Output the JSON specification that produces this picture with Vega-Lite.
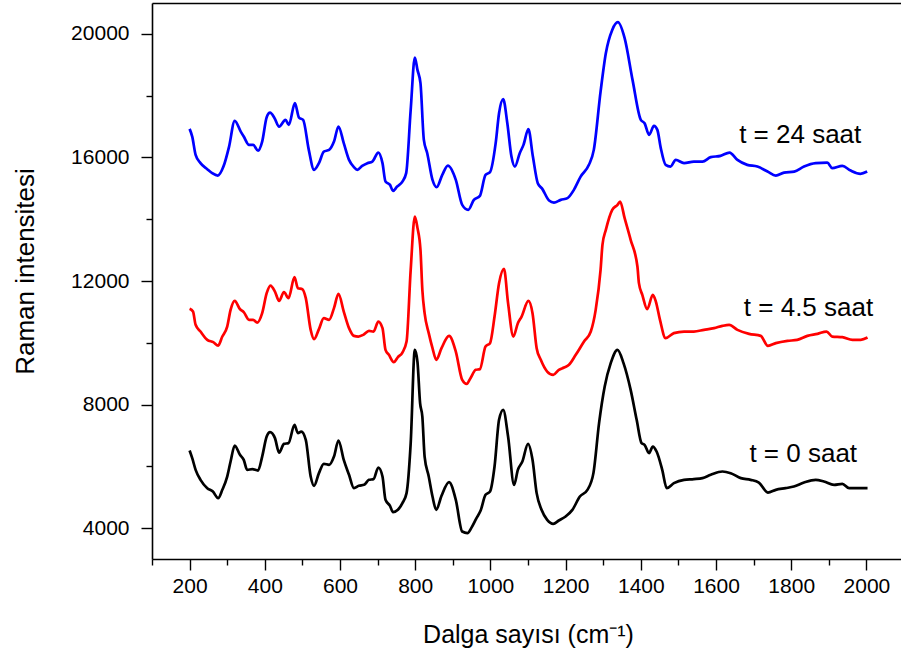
{
  "$schema": "https://vega.github.io/schema/vega-lite/v6.json",
  "width": 749,
  "height": 556,
  "autosize": {"type": "none"},
  "padding": {"left": 152, "top": 3, "right": 0, "bottom": 103},
  "background": "white",
  "config": {
    "view": {"stroke": null},
    "font": "Liberation Sans",
    "axis": {"grid": false, "domainColor": "black", "domainWidth": 1.6, "tickColor": "black", "tickWidth": 1.4, "labelColor": "black", "titleColor": "black", "labelFont": "Liberation Sans", "titleFont": "Liberation Sans", "titleFontWeight": "normal"}
  },
  "datasets": {
    "spectra": [
      {"s":"24","x":200,"y":16925},{"s":"24","x":207,"y":16676},{"s":"24","x":216,"y":16083},{"s":"24","x":229,"y":15815},{"s":"24","x":247,"y":15620},{"s":"24","x":260,"y":15491},{"s":"24","x":275,"y":15413},{"s":"24","x":290,"y":15704},{"s":"24","x":305,"y":16352},{"s":"24","x":320,"y":17184},{"s":"24","x":336,"y":16837},{"s":"24","x":344,"y":16676},{"s":"24","x":358,"y":16407},{"s":"24","x":369,"y":16407},{"s":"24","x":382,"y":16222},{"s":"24","x":393,"y":16514},{"s":"24","x":405,"y":17304},{"s":"24","x":414,"y":17452},{"s":"24","x":426,"y":17271},{"s":"24","x":438,"y":17000},{"s":"24","x":455,"y":17216},{"s":"24","x":464,"y":17054},{"s":"24","x":480,"y":17757},{"s":"24","x":491,"y":17291},{"s":"24","x":502,"y":17216},{"s":"24","x":517,"y":16245},{"s":"24","x":531,"y":15598},{"s":"24","x":544,"y":15815},{"s":"24","x":557,"y":16190},{"s":"24","x":571,"y":16245},{"s":"24","x":584,"y":16514},{"s":"24","x":596,"y":17000},{"s":"24","x":610,"y":16462},{"s":"24","x":624,"y":15921},{"s":"24","x":637,"y":15685},{"s":"24","x":646,"y":15598},{"s":"24","x":659,"y":15727},{"s":"24","x":673,"y":15815},{"s":"24","x":686,"y":15866},{"s":"24","x":702,"y":16158},{"s":"24","x":713,"y":15815},{"s":"24","x":721,"y":15219},{"s":"24","x":733,"y":15112},{"s":"24","x":741,"y":14918},{"s":"24","x":752,"y":15057},{"s":"24","x":766,"y":15219},{"s":"24","x":776,"y":15491},{"s":"24","x":788,"y":17540},{"s":"24","x":799,"y":19233},{"s":"24","x":806,"y":18835},{"s":"24","x":814,"y":18404},{"s":"24","x":823,"y":16569},{"s":"24","x":832,"y":16138},{"s":"24","x":846,"y":15274},{"s":"24","x":857,"y":15038},{"s":"24","x":872,"y":15436},{"s":"24","x":887,"y":15737},{"s":"24","x":908,"y":15274},{"s":"24","x":925,"y":14465},{"s":"24","x":941,"y":14303},{"s":"24","x":956,"y":14627},{"s":"24","x":972,"y":14756},{"s":"24","x":987,"y":15436},{"s":"24","x":999,"y":15523},{"s":"24","x":1014,"y":16462},{"s":"24","x":1023,"y":17433},{"s":"24","x":1034,"y":17886},{"s":"24","x":1045,"y":17109},{"s":"24","x":1056,"y":16028},{"s":"24","x":1065,"y":15704},{"s":"24","x":1078,"y":16138},{"s":"24","x":1088,"y":16407},{"s":"24","x":1101,"y":16915},{"s":"24","x":1113,"y":16028},{"s":"24","x":1126,"y":15167},{"s":"24","x":1138,"y":14983},{"s":"24","x":1156,"y":14604},{"s":"24","x":1169,"y":14539},{"s":"24","x":1187,"y":14627},{"s":"24","x":1205,"y":14682},{"s":"24","x":1222,"y":14950},{"s":"24","x":1240,"y":15381},{"s":"24","x":1262,"y":15760},{"s":"24","x":1275,"y":16245},{"s":"24","x":1293,"y":18132},{"s":"24","x":1307,"y":19375},{"s":"24","x":1324,"y":20129},{"s":"24","x":1339,"y":20379},{"s":"24","x":1357,"y":19861},{"s":"24","x":1378,"y":18511},{"s":"24","x":1400,"y":17216},{"s":"24","x":1410,"y":17109},{"s":"24","x":1422,"y":16731},{"s":"24","x":1435,"y":17022},{"s":"24","x":1444,"y":16892},{"s":"24","x":1453,"y":16310},{"s":"24","x":1466,"y":15760},{"s":"24","x":1479,"y":15705},{"s":"24","x":1493,"y":15921},{"s":"24","x":1515,"y":15815},{"s":"24","x":1541,"y":15866},{"s":"24","x":1564,"y":15866},{"s":"24","x":1586,"y":16009},{"s":"24","x":1612,"y":16051},{"s":"24","x":1636,"y":16158},{"s":"24","x":1657,"y":15921},{"s":"24","x":1683,"y":15760},{"s":"24","x":1710,"y":15705},{"s":"24","x":1737,"y":15543},{"s":"24","x":1759,"y":15413},{"s":"24","x":1781,"y":15510},{"s":"24","x":1808,"y":15543},{"s":"24","x":1834,"y":15705},{"s":"24","x":1865,"y":15815},{"s":"24","x":1896,"y":15834},{"s":"24","x":1909,"y":15653},{"s":"24","x":1936,"y":15727},{"s":"24","x":1958,"y":15575},{"s":"24","x":1984,"y":15468},{"s":"24","x":2002,"y":15543},

      {"s":"4.5","x":200,"y":11098},{"s":"4.5","x":209,"y":11011},{"s":"4.5","x":216,"y":10581},{"s":"4.5","x":229,"y":10364},{"s":"4.5","x":247,"y":10095},{"s":"4.5","x":263,"y":10020},{"s":"4.5","x":276,"y":9910},{"s":"4.5","x":287,"y":10202},{"s":"4.5","x":300,"y":10525},{"s":"4.5","x":309,"y":11066},{"s":"4.5","x":320,"y":11357},{"s":"4.5","x":334,"y":11088},{"s":"4.5","x":344,"y":10991},{"s":"4.5","x":358,"y":10742},{"s":"4.5","x":369,"y":10742},{"s":"4.5","x":380,"y":10655},{"s":"4.5","x":393,"y":10959},{"s":"4.5","x":405,"y":11606},{"s":"4.5","x":415,"y":11853},{"s":"4.5","x":427,"y":11658},{"s":"4.5","x":438,"y":11357},{"s":"4.5","x":451,"y":11639},{"s":"4.5","x":463,"y":11445},{"s":"4.5","x":479,"y":12124},{"s":"4.5","x":488,"y":11768},{"s":"4.5","x":500,"y":11736},{"s":"4.5","x":509,"y":11445},{"s":"4.5","x":522,"y":10418},{"s":"4.5","x":531,"y":10117},{"s":"4.5","x":544,"y":10441},{"s":"4.5","x":557,"y":10797},{"s":"4.5","x":571,"y":10742},{"s":"4.5","x":584,"y":11121},{"s":"4.5","x":596,"y":11584},{"s":"4.5","x":610,"y":11011},{"s":"4.5","x":624,"y":10474},{"s":"4.5","x":637,"y":10224},{"s":"4.5","x":649,"y":10202},{"s":"4.5","x":662,"y":10257},{"s":"4.5","x":677,"y":10386},{"s":"4.5","x":689,"y":10364},{"s":"4.5","x":702,"y":10687},{"s":"4.5","x":713,"y":10474},{"s":"4.5","x":721,"y":9771},{"s":"4.5","x":730,"y":9610},{"s":"4.5","x":743,"y":9373},{"s":"4.5","x":754,"y":9535},{"s":"4.5","x":766,"y":9684},{"s":"4.5","x":777,"y":10040},{"s":"4.5","x":788,"y":12361},{"s":"4.5","x":799,"y":14086},{"s":"4.5","x":806,"y":13720},{"s":"4.5","x":814,"y":13008},{"s":"4.5","x":819,"y":11713},{"s":"4.5","x":825,"y":10959},{"s":"4.5","x":836,"y":10312},{"s":"4.5","x":846,"y":9826},{"s":"4.5","x":856,"y":9447},{"s":"4.5","x":870,"y":9826},{"s":"4.5","x":890,"y":10224},{"s":"4.5","x":908,"y":9716},{"s":"4.5","x":925,"y":8800},{"s":"4.5","x":937,"y":8670},{"s":"4.5","x":947,"y":8855},{"s":"4.5","x":961,"y":9124},{"s":"4.5","x":972,"y":9146},{"s":"4.5","x":987,"y":9878},{"s":"4.5","x":999,"y":9988},{"s":"4.5","x":1011,"y":10849},{"s":"4.5","x":1023,"y":11930},{"s":"4.5","x":1036,"y":12393},{"s":"4.5","x":1047,"y":11283},{"s":"4.5","x":1061,"y":10202},{"s":"4.5","x":1073,"y":10635},{"s":"4.5","x":1083,"y":10849},{"s":"4.5","x":1101,"y":11357},{"s":"4.5","x":1112,"y":10959},{"s":"4.5","x":1123,"y":9826},{"s":"4.5","x":1134,"y":9447},{"s":"4.5","x":1151,"y":9069},{"s":"4.5","x":1167,"y":8962},{"s":"4.5","x":1182,"y":9124},{"s":"4.5","x":1196,"y":9198},{"s":"4.5","x":1209,"y":9286},{"s":"4.5","x":1227,"y":9610},{"s":"4.5","x":1249,"y":10040},{"s":"4.5","x":1267,"y":10364},{"s":"4.5","x":1280,"y":11066},{"s":"4.5","x":1293,"y":12361},{"s":"4.5","x":1298,"y":13170},{"s":"4.5","x":1307,"y":13656},{"s":"4.5","x":1324,"y":14303},{"s":"4.5","x":1338,"y":14465},{"s":"4.5","x":1345,"y":14572},{"s":"4.5","x":1357,"y":14034},{"s":"4.5","x":1373,"y":13332},{"s":"4.5","x":1391,"y":12468},{"s":"4.5","x":1395,"y":11930},{"s":"4.5","x":1404,"y":11551},{"s":"4.5","x":1417,"y":11088},{"s":"4.5","x":1432,"y":11551},{"s":"4.5","x":1440,"y":11335},{"s":"4.5","x":1451,"y":10742},{"s":"4.5","x":1466,"y":10150},{"s":"4.5","x":1488,"y":10312},{"s":"4.5","x":1515,"y":10364},{"s":"4.5","x":1541,"y":10364},{"s":"4.5","x":1568,"y":10418},{"s":"4.5","x":1595,"y":10474},{"s":"4.5","x":1617,"y":10548},{"s":"4.5","x":1635,"y":10580},{"s":"4.5","x":1657,"y":10418},{"s":"4.5","x":1688,"y":10289},{"s":"4.5","x":1719,"y":10224},{"s":"4.5","x":1738,"y":9901},{"s":"4.5","x":1759,"y":9988},{"s":"4.5","x":1790,"y":10062},{"s":"4.5","x":1816,"y":10095},{"s":"4.5","x":1843,"y":10224},{"s":"4.5","x":1870,"y":10289},{"s":"4.5","x":1894,"y":10364},{"s":"4.5","x":1909,"y":10202},{"s":"4.5","x":1936,"y":10182},{"s":"4.5","x":1963,"y":10095},{"s":"4.5","x":1985,"y":10095},{"s":"4.5","x":2003,"y":10169},

      {"s":"0","x":200,"y":6512},{"s":"0","x":207,"y":6265},{"s":"0","x":216,"y":5887},{"s":"0","x":229,"y":5563},{"s":"0","x":247,"y":5294},{"s":"0","x":262,"y":5184},{"s":"0","x":276,"y":4971},{"s":"0","x":287,"y":5239},{"s":"0","x":300,"y":5670},{"s":"0","x":309,"y":6156},{"s":"0","x":320,"y":6673},{"s":"0","x":334,"y":6372},{"s":"0","x":344,"y":6210},{"s":"0","x":353,"y":5887},{"s":"0","x":367,"y":5910},{"s":"0","x":382,"y":5864},{"s":"0","x":393,"y":6317},{"s":"0","x":405,"y":6965},{"s":"0","x":414,"y":7107},{"s":"0","x":427,"y":6913},{"s":"0","x":438,"y":6447},{"s":"0","x":451,"y":6728},{"s":"0","x":463,"y":6751},{"s":"0","x":479,"y":7343},{"s":"0","x":488,"y":7075},{"s":"0","x":497,"y":7126},{"s":"0","x":509,"y":6858},{"s":"0","x":522,"y":5670},{"s":"0","x":531,"y":5369},{"s":"0","x":544,"y":5780},{"s":"0","x":557,"y":6081},{"s":"0","x":571,"y":6049},{"s":"0","x":584,"y":6317},{"s":"0","x":596,"y":6835},{"s":"0","x":610,"y":6210},{"s":"0","x":624,"y":5725},{"s":"0","x":637,"y":5294},{"s":"0","x":650,"y":5369},{"s":"0","x":664,"y":5401},{"s":"0","x":677,"y":5563},{"s":"0","x":689,"y":5586},{"s":"0","x":702,"y":5962},{"s":"0","x":713,"y":5670},{"s":"0","x":721,"y":4916},{"s":"0","x":733,"y":4721},{"s":"0","x":741,"y":4517},{"s":"0","x":754,"y":4592},{"s":"0","x":766,"y":4809},{"s":"0","x":777,"y":5132},{"s":"0","x":788,"y":6751},{"s":"0","x":799,"y":9771},{"s":"0","x":806,"y":9383},{"s":"0","x":813,"y":8046},{"s":"0","x":819,"y":7612},{"s":"0","x":825,"y":6317},{"s":"0","x":836,"y":5670},{"s":"0","x":846,"y":5022},{"s":"0","x":856,"y":4592},{"s":"0","x":870,"y":5045},{"s":"0","x":890,"y":5489},{"s":"0","x":908,"y":4916},{"s":"0","x":925,"y":3890},{"s":"0","x":939,"y":3838},{"s":"0","x":949,"y":3999},{"s":"0","x":963,"y":4323},{"s":"0","x":974,"y":4569},{"s":"0","x":987,"y":5077},{"s":"0","x":999,"y":5184},{"s":"0","x":1011,"y":5994},{"s":"0","x":1023,"y":7505},{"s":"0","x":1034,"y":7829},{"s":"0","x":1047,"y":6965},{"s":"0","x":1063,"y":5401},{"s":"0","x":1073,"y":5887},{"s":"0","x":1085,"y":6156},{"s":"0","x":1100,"y":6728},{"s":"0","x":1112,"y":6210},{"s":"0","x":1123,"y":5132},{"s":"0","x":1136,"y":4592},{"s":"0","x":1151,"y":4268},{"s":"0","x":1167,"y":4139},{"s":"0","x":1182,"y":4246},{"s":"0","x":1200,"y":4376},{"s":"0","x":1218,"y":4592},{"s":"0","x":1238,"y":5022},{"s":"0","x":1258,"y":5239},{"s":"0","x":1274,"y":5780},{"s":"0","x":1289,"y":7398},{"s":"0","x":1304,"y":8583},{"s":"0","x":1320,"y":9341},{"s":"0","x":1338,"y":9771},{"s":"0","x":1354,"y":9341},{"s":"0","x":1373,"y":8476},{"s":"0","x":1389,"y":7505},{"s":"0","x":1402,"y":6751},{"s":"0","x":1410,"y":6696},{"s":"0","x":1422,"y":6427},{"s":"0","x":1432,"y":6641},{"s":"0","x":1442,"y":6479},{"s":"0","x":1457,"y":5887},{"s":"0","x":1469,"y":5294},{"s":"0","x":1488,"y":5456},{"s":"0","x":1515,"y":5563},{"s":"0","x":1541,"y":5586},{"s":"0","x":1564,"y":5618},{"s":"0","x":1586,"y":5725},{"s":"0","x":1617,"y":5832},{"s":"0","x":1639,"y":5779},{"s":"0","x":1666,"y":5618},{"s":"0","x":1692,"y":5563},{"s":"0","x":1714,"y":5476},{"s":"0","x":1738,"y":5152},{"s":"0","x":1759,"y":5239},{"s":"0","x":1785,"y":5294},{"s":"0","x":1807,"y":5346},{"s":"0","x":1834,"y":5476},{"s":"0","x":1865,"y":5563},{"s":"0","x":1887,"y":5508},{"s":"0","x":1914,"y":5401},{"s":"0","x":1936,"y":5434},{"s":"0","x":1954,"y":5294},{"s":"0","x":1976,"y":5294},{"s":"0","x":2003,"y":5294}
    ],
    "labels": [
      {"x": 1824, "y": 16730, "t": "t = 24 saat"},
      {"x": 1846, "y": 11126, "t": "t = 4.5 saat"},
      {"x": 1832, "y": 6397, "t": "t = 0 saat"}
    ]
  },
  "layer": [
    {
      "data": {"name": "spectra"},
      "mark": {"type": "line", "strokeWidth": 2.7, "interpolate": "monotone"},
      "encoding": {
        "x": {
          "field": "x", "type": "quantitative",
          "scale": {"domain": [100, 2092], "nice": false, "zero": false},
          "axis": {
            "orient": "bottom",
            "values": [100,200,300,400,500,600,700,800,900,1000,1100,1200,1300,1400,1500,1600,1700,1800,1900,2000],
            "labelExpr": "datum.value % 200 === 0 ? datum.label : ''",
            "format": "d",
            "tickSize": {"condition": {"test": "datum.value % 200 === 0", "value": 11}, "value": 6},
            "labelFontSize": 21,
            "labelPadding": 5,
            "title": "Dalga sayısı (cm⁻¹)",
            "titleFontSize": 25,
            "titleX": 376,
            "titleY": 75,
            "titleBaseline": "middle",
            "titleAlign": "center"
          }
        },
        "y": {
          "field": "y", "type": "quantitative",
          "scale": {"domain": [3000, 21000], "nice": false, "zero": false},
          "axis": {
            "values": [4000,6000,8000,10000,12000,14000,16000,18000,20000],
            "labelExpr": "datum.value % 4000 === 0 ? datum.label : ''",
            "format": "d",
            "tickSize": {"condition": {"test": "datum.value % 4000 === 0", "value": 11}, "value": 6},
            "labelFontSize": 21,
            "labelPadding": 12,
            "title": "Raman intensitesi",
            "titleFontSize": 26,
            "titleX": -127,
            "titleY": 268,
            "titleBaseline": "middle",
            "titleAlign": "center"
          }
        },
        "color": {
          "field": "s", "type": "nominal",
          "scale": {"domain": ["24", "4.5", "0"], "range": ["#0000ff", "#ff0000", "#000000"]},
          "legend": null
        }
      }
    },
    {
      "data": {"name": "labels"},
      "mark": {"type": "text", "fontSize": 26, "font": "Liberation Sans", "color": "black", "align": "center", "baseline": "middle"},
      "encoding": {
        "x": {"field": "x", "type": "quantitative", "axis": {"orient": "top", "labels": false, "ticks": false, "title": null, "domainWidth": 1.6}},
        "y": {"field": "y", "type": "quantitative"},
        "text": {"field": "t"}
      }
    }
  ],
  "resolve": {"axis": {"x": "independent"}}
}
